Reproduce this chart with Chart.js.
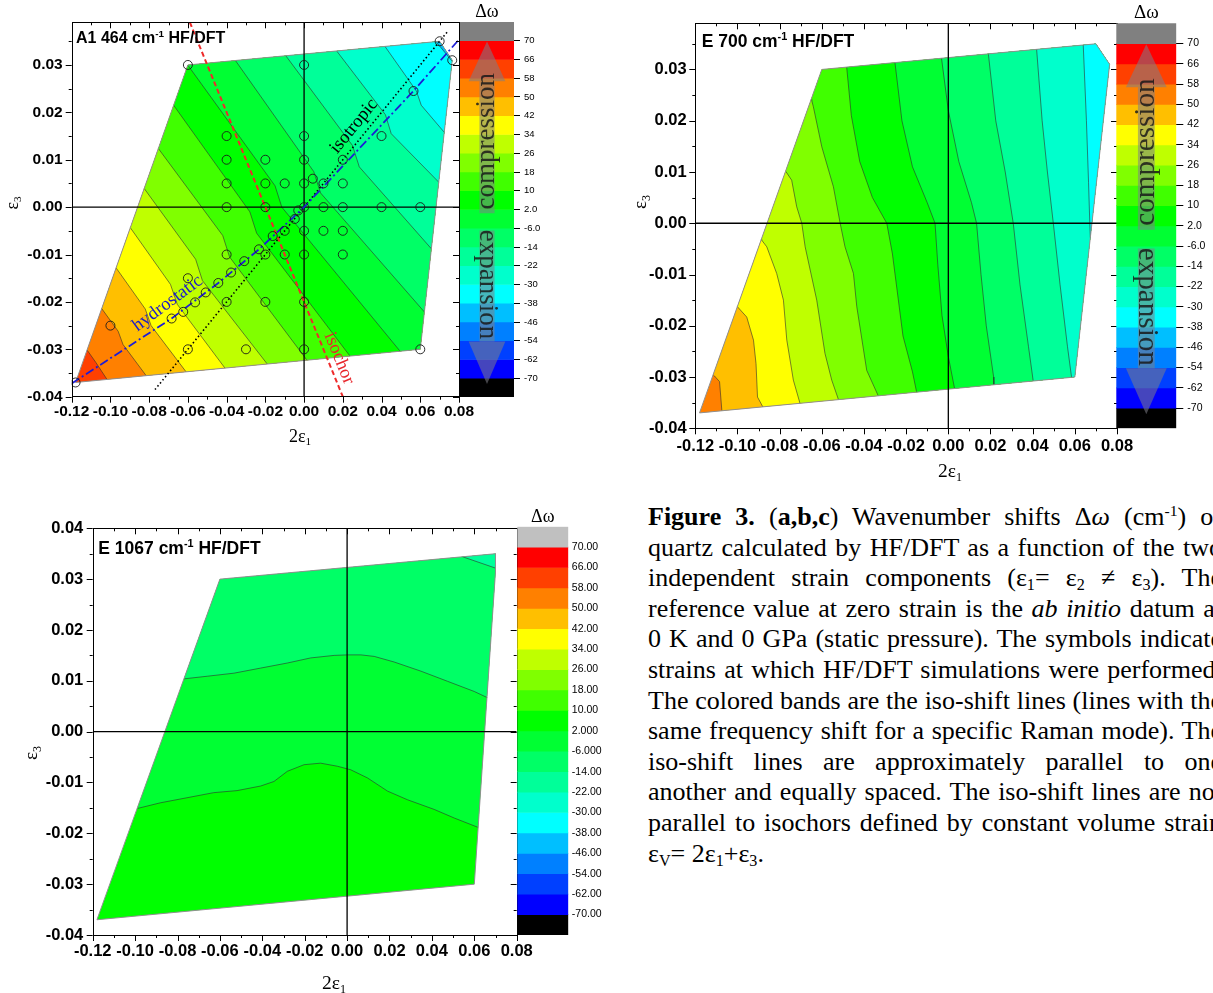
<!DOCTYPE html>
<html lang="en">
<head>
<meta charset="UTF-8">
<meta name="viewport" content="width=device-width, initial-scale=1.0">
<title>Figure 3. Wavenumber shifts of quartz, HF/DFT</title>
<script src="https://cdn.jsdelivr.net/npm/chart.js"></script>
<style>
  html, body { margin: 0; padding: 0; background: #fff; overflow: hidden; }
  #page { position: relative; width: 1213px; height: 993px; overflow: hidden; }
  #page canvas { position: absolute; }
  #caption { position: absolute; left: 648px; top: 502px; width: 574px;
    font-family: "Liberation Serif", "Times New Roman", serif; font-size: 26px; line-height: 30.6px; color: #000; }
  #caption div { text-align: justify; text-align-last: justify; }
  #caption div.last { text-align-last: left; }
  #caption sub { font-size: 62%; vertical-align: -0.22em; line-height: 0; }
  #caption sup { font-size: 60%; vertical-align: 0.6em; line-height: 0; }
</style>
</head>
<body>
<div id="page">
  <canvas id="pa" width="480" height="450" style="left:0;top:0;width:480px;height:450px"></canvas>
  <canvas id="pb" width="515" height="495" style="left:620px;top:0;width:515px;height:495px"></canvas>
  <canvas id="pc" width="535" height="488" style="left:0;top:505px;width:535px;height:488px"></canvas>
  <canvas id="cba" width="100" height="405" style="left:455px;top:0;width:100px;height:405px"></canvas>
  <canvas id="cbb" width="105" height="440" style="left:1108px;top:0;width:105px;height:440px"></canvas>
  <canvas id="cbc" width="100" height="440" style="left:510px;top:505px;width:100px;height:440px"></canvas>

  <div id="caption">
    <div><b>Figure 3.</b> (<b>a,b,c</b>) Wavenumber shifts Δ<i>ω</i> (cm<sup>-1</sup>) of</div>
    <div>quartz calculated by HF/DFT as a function of the two</div>
    <div>independent strain components (ε<sub>1</sub>= ε<sub>2</sub> ≠ ε<sub>3</sub>). The</div>
    <div>reference value at zero strain is the <i>ab initio</i> datum at</div>
    <div>0 K and 0 GPa (static pressure). The symbols indicate</div>
    <div>strains at which HF/DFT simulations were performed.</div>
    <div>The colored bands are the iso-shift lines (lines with the</div>
    <div>same frequency shift for a specific Raman mode). The</div>
    <div>iso-shift lines are approximately parallel to one</div>
    <div>another and equally spaced. The iso-shift lines are not</div>
    <div>parallel to isochors defined by constant volume strain</div>
    <div class="last">ε<sub>V</sub>= 2ε<sub>1</sub>+ε<sub>3</sub>.</div>
  </div>
</div>

<script>
// axis ticks
const xTicks = [-0.12, -0.10, -0.08, -0.06, -0.04, -0.02, 0.00, 0.02, 0.04, 0.06, 0.08];
const yTicksAB = [-0.04, -0.03, -0.02, -0.01, 0.00, 0.01, 0.02, 0.03];
const yTicksC = [-0.04, -0.03, -0.02, -0.01, 0.00, 0.01, 0.02, 0.03, 0.04];

// colour scale levels (cm-1), top to bottom
const levels = [70, 66, 58, 50, 42, 34, 26, 18, 10, 2, -6, -14, -22, -30, -38, -46, -54, -62, -70];
const levelLabels = ['70', '66', '58', '50', '42', '34', '26', '18', '10', '2.0', '-6.0', '-14', '-22', '-30', '-38', '-46', '-54', '-62', '-70'];
const levelLabelsC = ['70.00', '66.00', '58.00', '50.00', '42.00', '34.00', '26.00', '18.00', '10.00', '2.000', '-6.000',
  '-14.00', '-22.00', '-30.00', '-38.00', '-46.00', '-54.00', '-62.00', '-70.00'];

// strained states covered by the calculations (2e1, e3)
const domainAB = [[-0.118, -0.037], [-0.060, 0.030], [0.070, 0.035], [0.0765, 0.031], [0.060, -0.030]];
const domainC = [[-0.118, -0.037], [-0.060, 0.030], [0.070, 0.035], [0.070, 0.0315], [0.060, -0.030]];

// iso-shift lines, A1 464 cm-1
const isoLevelsA = [58, 50, 42, 34, 26, 18, 10, 2, -6, -14, -22, -30, -38];
const isoLinesA = [
  [[-0.1161, -0.0278], [-0.1075, -0.0328], [-0.0988, -0.0382]],
  [[-0.1086, -0.0191], [-0.0960, -0.0262], [-0.0935, -0.0290], [-0.0782, -0.0374]],
  [[-0.1011, -0.0105], [-0.0820, -0.0215], [-0.0790, -0.0250], [-0.0577, -0.0365]],
  [[-0.0938, -0.0020], [-0.0690, -0.0163], [-0.0655, -0.0205], [-0.0375, -0.0358]],
  [[-0.0866, 0.0062], [-0.0560, -0.0110], [-0.0525, -0.0155], [-0.0158, -0.0348]],
  [[-0.0793, 0.0146], [-0.0420, -0.0060], [-0.0385, -0.0105], [0.0046, -0.0340]],
  [[-0.0714, 0.0238], [-0.0280, -0.0010], [-0.0245, -0.0055], [0.0268, -0.0331]],
  [[-0.0640, 0.0322], [-0.0150, 0.0045], [-0.0115, 0.0000], [0.0528, -0.0320]],
  [[-0.0385, 0.0327], [0.0050, 0.0075], [0.0085, 0.0030], [0.0655, -0.0237]],
  [[-0.0128, 0.0338], [0.0250, 0.0130], [0.0285, 0.0085], [0.0690, -0.0103]],
  [[0.0130, 0.0350], [0.0420, 0.0195], [0.0450, 0.0155], [0.0733, 0.0037]],
  [[0.0380, 0.0361], [0.0580, 0.0245], [0.0605, 0.0215], [0.0759, 0.0141]],
  [[0.0640, 0.0370], [0.0800, 0.0290]]
];

// iso-shift lines, E 700 cm-1
const isoLevelsB = [50, 42, 34, 26, 18, 10, 2, -6, -14, -22, -30];
const isoLinesB = [
  [[-0.1145, -0.0285], [-0.1109, -0.0298], [-0.1085, -0.0309], [-0.1074, -0.0366], [-0.1072, -0.0400]],
  [[-0.1040, -0.0145], [-0.1000, -0.0163], [-0.0956, -0.0183], [-0.0924, -0.0228], [-0.0912, -0.0274], [-0.0905, -0.0339], [-0.0880, -0.0358], [-0.0875, -0.0400]],
  [[-0.0920, -0.0015], [-0.0885, -0.0033], [-0.0861, -0.0046], [-0.0814, -0.0098], [-0.0782, -0.0150], [-0.0766, -0.0228], [-0.0735, -0.0306], [-0.0703, -0.0352], [-0.0698, -0.0400]],
  [[-0.0810, 0.0120], [-0.0769, 0.0100], [-0.0743, 0.0084], [-0.0719, 0.0032], [-0.0695, 0.0000], [-0.0679, -0.0046], [-0.0624, -0.0150], [-0.0585, -0.0254], [-0.0553, -0.0306], [-0.0521, -0.0344], [-0.0515, -0.0400]],
  [[-0.0685, 0.0260], [-0.0648, 0.0240], [-0.0640, 0.0227], [-0.0600, 0.0149], [-0.0545, 0.0071], [-0.0513, 0.0000], [-0.0490, -0.0046], [-0.0450, -0.0098], [-0.0434, -0.0163], [-0.0387, -0.0287], [-0.0332, -0.0337], [-0.0328, -0.0400]],
  [[-0.0485, 0.0380], [-0.0482, 0.0304], [-0.0460, 0.0210], [-0.0420, 0.0120], [-0.0360, 0.0050], [-0.0292, 0.0000], [-0.0265, -0.0060], [-0.0240, -0.0140], [-0.0215, -0.0220], [-0.0170, -0.0290], [-0.0150, -0.0330], [-0.0148, -0.0400]],
  [[-0.0256, 0.0380], [-0.0253, 0.0313], [-0.0220, 0.0200], [-0.0170, 0.0110], [-0.0100, 0.0040], [-0.0063, 0.0000], [-0.0050, -0.0080], [-0.0030, -0.0180], [0.0000, -0.0260], [0.0030, -0.0323], [0.0034, -0.0400]],
  [[-0.0035, 0.0380], [-0.0032, 0.0321], [0.0000, 0.0220], [0.0050, 0.0120], [0.0110, 0.0040], [0.0134, 0.0000], [0.0155, -0.0100], [0.0180, -0.0200], [0.0215, -0.0300], [0.0222, -0.0400]],
  [[0.0188, 0.0380], [0.0190, 0.0330], [0.0225, 0.0200], [0.0270, 0.0100], [0.0308, 0.0000], [0.0340, -0.0120], [0.0380, -0.0240], [0.0403, -0.0309], [0.0405, -0.0400]],
  [[0.0417, 0.0380], [0.0419, 0.0338], [0.0445, 0.0200], [0.0470, 0.0100], [0.0498, 0.0000], [0.0530, -0.0120], [0.0565, -0.0240], [0.0585, -0.0302], [0.0590, -0.0400]],
  [[0.0638, 0.0380], [0.0640, 0.0347], [0.0655, 0.0200], [0.0665, 0.0080], [0.0671, 0.0000], [0.0680, -0.0100]]
];

// iso-shift lines, E 1067 cm-1
const isoLevelsC = [2, -6, -14];
const isoLinesC = [
  [[-0.1060, -0.0155], [-0.0988, -0.0151], [-0.0881, -0.0140], [-0.0755, -0.0130], [-0.0629, -0.0120], [-0.0519, -0.0116],
   [-0.0408, -0.0107], [-0.0345, -0.0098], [-0.0282, -0.0078], [-0.0203, -0.0065], [-0.0125, -0.0062], [-0.0046, -0.0068],
   [0.0017, -0.0075], [0.0096, -0.0091], [0.0191, -0.0117], [0.0285, -0.0134], [0.0411, -0.0153], [0.0506, -0.0170],
   [0.0616, -0.0188], [0.0700, -0.0203]],
  [[-0.0850, 0.0100], [-0.0766, 0.0104], [-0.0660, 0.0109], [-0.0534, 0.0115], [-0.0408, 0.0125], [-0.0282, 0.0135],
   [-0.0172, 0.0145], [-0.0061, 0.0150], [0.0002, 0.0151], [0.0065, 0.0151], [0.0128, 0.0148], [0.0222, 0.0137],
   [0.0348, 0.0119], [0.0474, 0.0099], [0.0600, 0.0079], [0.0656, 0.0068], [0.0750, 0.0055]],
  [[0.0480, 0.0353], [0.0545, 0.0344], [0.0698, 0.0322], [0.0800, 0.0311]]
];

// simulated strain states, panel a
const pointsA = [
  [-0.118, -0.037], [-0.06, 0.03], [0, 0.03], [0.07, 0.035], [0.0765, 0.031], [0.0565, 0.0245],
  [-0.04, 0.015], [0, 0.015], [0.04, 0.015],
  [-0.04, 0.01], [-0.02, 0.01], [0, 0.01], [0.02, 0.01],
  [-0.04, 0.005], [-0.02, 0.005], [-0.01, 0.005], [0, 0.005], [0.0045, 0.006], [0.01, 0.005], [0.02, 0.005],
  [-0.04, 0], [-0.02, 0], [0, 0], [0.01, 0], [0.02, 0], [0.04, 0], [0.06, 0],
  [-0.003, -0.0007], [-0.0048, -0.0025], [-0.01, -0.005], [0, -0.005], [0.01, -0.005], [0.02, -0.005],
  [-0.0162, -0.0061], [-0.0233, -0.0089],
  [-0.04, -0.01], [-0.02, -0.01], [-0.01, -0.01], [0, -0.01], [0.02, -0.01],
  [-0.0309, -0.0114], [-0.0377, -0.0138], [-0.0443, -0.016], [-0.0508, -0.018], [-0.0563, -0.0201],
  [-0.0624, -0.0221], [-0.0684, -0.0235],
  [-0.06, -0.015], [-0.04, -0.02], [-0.02, -0.02], [0, -0.02],
  [-0.1, -0.025], [-0.06, -0.03], [-0.03, -0.03], [0, -0.03], [0.06, -0.03]
];

// strain paths, panel a
const isotropicLine = [[-0.077, -0.0385], [0.0746, 0.0373]];
const hydrostaticLine = [[-0.12, -0.0372], [-0.0684, -0.0235], [-0.0443, -0.016], [-0.0233, -0.0089], [0, 0], [0.0565, 0.0245], [0.0805, 0.0356]];
const isochorLine = [[-0.059, 0.039], [0.02, -0.04]];

const bandColors = ['#808080', '#ff0000', '#ff4000', '#ff8000', '#ffbf00', '#ffff00', '#bfff00', '#80ff00', '#40ff00', '#00ff00',
  '#00ff33', '#00ff66', '#00ff99', '#00ffcc', '#00ffff', '#00bfff', '#0080ff', '#0040ff', '#0000ff', '#000000'];

const SANS = '"Liberation Sans", Arial, sans-serif';
const SERIF = '"Liberation Serif", "Times New Roman", serif';
const FAR = 1;

// ---------- geometry helpers ----------
function orient(poly) {
  let s = 0;
  for (let i = 0; i < poly.length; i++) {
    const p = poly[i], q = poly[(i + 1) % poly.length];
    s += p[0] * q[1] - q[0] * p[1];
  }
  return s > 0 ? 1 : -1;
}
function side(a, b, p, sg) {
  return sg * ((b[0] - a[0]) * (p[1] - a[1]) - (b[1] - a[1]) * (p[0] - a[0]));
}
// Sutherland-Hodgman against the (convex) domain
function clipPoly(subject, poly) {
  const sg = orient(poly);
  let out = subject;
  for (let j = 0; j < poly.length; j++) {
    const a = poly[j], b = poly[(j + 1) % poly.length];
    const input = out;
    out = [];
    for (let i = 0; i < input.length; i++) {
      const p = input[i], q = input[(i + 1) % input.length];
      const dp = side(a, b, p, sg), dq = side(a, b, q, sg);
      const cut = () => { const t = dp / (dp - dq); return [p[0] + t * (q[0] - p[0]), p[1] + t * (q[1] - p[1])]; };
      if (dp >= 0) { out.push(p); if (dq < 0) out.push(cut()); }
      else if (dq >= 0) out.push(cut());
    }
  }
  return out;
}
function clipLine(line, poly) {
  const sg = orient(poly), out = [];
  for (let i = 0; i < line.length - 1; i++) {
    const p = line[i], q = line[i + 1];
    let t0 = 0, t1 = 1;
    for (let j = 0; j < poly.length; j++) {
      const a = poly[j], b = poly[(j + 1) % poly.length];
      const dp = side(a, b, p, sg), dq = side(a, b, q, sg);
      if (dp < 0 && dq < 0) { t0 = 1; t1 = 0; break; }
      if (dp < 0) t0 = Math.max(t0, dp / (dp - dq));
      else if (dq < 0) t1 = Math.min(t1, dp / (dp - dq));
    }
    if (t0 < t1) {
      const at = t => [p[0] + t * (q[0] - p[0]), p[1] + t * (q[1] - p[1])];
      const s = at(t0), prev = out[out.length - 1];
      if (!prev || Math.abs(prev[0] - s[0]) > 1e-9 || Math.abs(prev[1] - s[1]) > 1e-9) out.push(s);
      out.push(at(t1));
    }
  }
  return out;
}
// region on the low-shift (upper right) side of an iso-shift line
function bandRegion(line) {
  const first = line[0], last = line[line.length - 1];
  return line.concat([[FAR, last[1]], [FAR, FAR], [first[0], FAR]]);
}

const xy = pts => pts.map(p => ({x: p[0], y: p[1]}));
function fillSet(pts, color) {
  return {data: xy(pts), showLine: true, fill: 'shape', backgroundColor: color, borderWidth: 0, pointRadius: 0, tension: 0};
}
function lineSet(pts, color, width, dash) {
  return {data: xy(pts), showLine: true, fill: false, borderColor: color, borderWidth: width, borderDash: dash || [],
    pointRadius: 0, tension: 0};
}
function contourSets(domain, lvls, lines, ymax) {
  const sets = [fillSet(domain, bandColors[levels.indexOf(lvls[0])])];
  lines.forEach((ln, i) => sets.push(fillSet(clipPoly(bandRegion(ln), domain), bandColors[levels.indexOf(lvls[i]) + 1])));
  lines.forEach(ln => sets.push(lineSet(clipLine(ln, domain), 'rgba(45,45,45,0.85)', 0.7)));
  sets.push(lineSet(domain.concat([domain[0]]), '#8f8f8f', 1));
  sets.push(lineSet([[-0.12, 0], [0.08, 0]], '#000', 1.3));
  sets.push(lineSet([[0, -0.04], [0, ymax]], '#000', 1.3));
  return sets;
}

// ---------- drawing helpers ----------
function drawParts(ctx, parts, x, y, o) {
  const size = o.size, weight = o.weight || 'normal';
  const fontFor = k => `${weight} ${k === 'n' ? size : size * 0.62}px ${o.family}`;
  ctx.save();
  ctx.translate(x, y);
  ctx.rotate(o.rot || 0);
  ctx.fillStyle = o.color || '#000';
  ctx.textBaseline = o.baseline || 'middle';
  ctx.textAlign = 'left';
  let w = 0;
  parts.forEach(([t, k]) => { ctx.font = fontFor(k); w += ctx.measureText(t).width; });
  let cx = o.align === 'left' ? 0 : -w / 2;
  parts.forEach(([t, k]) => {
    ctx.font = fontFor(k);
    const dy = k === 'sub' ? size * 0.3 : k === 'sup' ? -size * 0.38 : 0;
    ctx.fillText(t, cx, dy);
    cx += ctx.measureText(t).width;
  });
  ctx.restore();
}
function withMinor(major, lo, hi) {
  const out = major.map(v => ({v, major: true}));
  const step = major[1] - major[0];
  for (let i = -1; i < major.length; i++) {
    const m = (i < 0 ? major[0] - step : major[i]) + step / 2;
    if (m >= lo - 1e-9 && m <= hi + 1e-9) out.push({v: m, major: false});
  }
  return out;
}
const fmt2 = v => (Math.abs(v) < 1e-9 ? 0 : v).toFixed(2);

function panelDecor(L, notes) {
  return {
    id: 'decor',
    afterDatasetsDraw(chart) {
      const {ctx, scales: {x, y}} = chart;
      (notes || []).forEach(n => drawParts(ctx, [[n.text, 'n']], x.getPixelForValue(n.at[0]), y.getPixelForValue(n.at[1]),
        {size: n.size, family: SERIF, color: n.color, rot: n.angle * Math.PI / 180}));
    },
    afterDraw(chart) {
      const {ctx, chartArea: a, scales: {x, y}} = chart;
      ctx.save();
      ctx.strokeStyle = '#000';
      ctx.lineWidth = 1;
      ctx.beginPath();
      withMinor(xTicks, x.min, x.max).forEach(t => {
        const px = Math.round(x.getPixelForValue(t.v)) + 0.5, len = t.major ? 6 : 3;
        ctx.moveTo(px, a.bottom); ctx.lineTo(px, a.bottom + len);
        ctx.moveTo(px, a.top); ctx.lineTo(px, a.top + len);
      });
      withMinor(L.yTicks, y.min, y.max).forEach(t => {
        const py = Math.round(y.getPixelForValue(t.v)) + 0.5, len = t.major ? 6 : 3;
        ctx.moveTo(a.left, py); ctx.lineTo(a.left - len, py);
        ctx.moveTo(a.right, py); ctx.lineTo(a.right - len, py);
      });
      ctx.stroke();
      ctx.strokeRect(Math.round(a.left) + 0.5, Math.round(a.top) + 0.5, Math.round(a.right - a.left), Math.round(a.bottom - a.top));
      ctx.restore();
      drawParts(ctx, L.title, L.titleAt[0], L.titleAt[1], {size: L.titleSize, family: SANS, weight: 'bold', align: 'left', baseline: 'alphabetic'});
      drawParts(ctx, [['2ε', 'n'], ['1', 'sub']], L.xTitleAt[0], L.xTitleAt[1], {size: L.axisSize, family: SERIF});
      drawParts(ctx, [['ε', 'n'], ['3', 'sub']], L.yTitleAt[0], L.yTitleAt[1], {size: L.axisSize, family: SERIF, rot: -Math.PI / 2});
    }
  };
}

function makePanel(L, sets, notes) {
  sets.forEach((s, i) => { s.order = sets.length - i; });
  const tickFont = {family: SANS, size: L.tickFont, weight: 'bold'};
  return new Chart(document.getElementById(L.id), {
    type: 'scatter',
    data: {datasets: sets},
    options: {
      responsive: false, animation: false, devicePixelRatio: 1, events: [],
      layout: {padding: L.pad},
      plugins: {legend: {display: false}, tooltip: {enabled: false}},
      scales: {
        x: {
          type: 'linear', min: -0.12, max: 0.08,
          afterBuildTicks: s => { s.ticks = xTicks.map(v => ({value: v})); },
          afterFit: s => { s.height = L.xh; s.paddingLeft = 0; s.paddingRight = 0; },
          grid: {display: false, drawTicks: false}, border: {display: false},
          ticks: {autoSkip: false, maxRotation: 0, minRotation: 0, padding: L.xPad, color: '#000', font: tickFont, callback: v => fmt2(v)}
        },
        y: {
          type: 'linear', min: -0.04, max: L.ymax,
          afterBuildTicks: s => { s.ticks = L.yTicks.map(v => ({value: v})); },
          afterFit: s => { s.width = L.yw; s.paddingTop = 0; s.paddingBottom = 0; },
          grid: {display: false, drawTicks: false}, border: {display: false},
          ticks: {autoSkip: false, padding: L.yPad, color: '#000', font: tickFont, callback: v => fmt2(v)}
        }
      }
    },
    plugins: [panelDecor(L, notes)]
  });
}

function drawArrows(chart) {
  const {ctx, chartArea: a} = chart;
  const h = a.bottom - a.top, w = a.right - a.left, cx = (a.left + a.right) / 2;
  const Y = f => a.top + f * h;
  ctx.save();
  ctx.fillStyle = 'rgba(125,125,135,0.55)';
  ctx.beginPath();
  ctx.moveTo(cx, Y(0.052)); ctx.lineTo(cx + 0.34 * w, Y(0.158)); ctx.lineTo(cx - 0.34 * w, Y(0.158)); ctx.closePath();
  ctx.fill();
  ctx.fillRect(cx - 0.14 * w, Y(0.158), 0.28 * w, Y(0.51) - Y(0.158));
  ctx.fillRect(cx - 0.14 * w, Y(0.556), 0.28 * w, Y(0.852) - Y(0.556));
  ctx.beginPath();
  ctx.moveTo(cx - 0.34 * w, Y(0.852)); ctx.lineTo(cx + 0.34 * w, Y(0.852)); ctx.lineTo(cx, Y(0.965)); ctx.closePath();
  ctx.fill();
  ctx.restore();
  drawParts(ctx, [['compression', 'n']], cx, Y(0.318), {size: 0.072 * h, family: SERIF, color: 'rgba(25,25,25,0.85)', rot: -Math.PI / 2});
  drawParts(ctx, [['expansion', 'n']], cx, Y(0.70), {size: 0.072 * h, family: SERIF, color: 'rgba(25,25,25,0.85)', rot: Math.PI / 2});
}

function makeColorbar(C) {
  const colors = bandColors.slice();
  colors[0] = C.gray;
  const sets = colors.map((c, k) => ({data: [[19 - k, 20 - k]], backgroundColor: c, borderWidth: 0,
    grouped: false, barPercentage: 1, categoryPercentage: 1}));
  return new Chart(document.getElementById(C.id), {
    type: 'bar',
    data: {labels: ['Δω'], datasets: sets},
    options: {
      responsive: false, animation: false, devicePixelRatio: 1, events: [],
      layout: {padding: C.pad},
      plugins: {legend: {display: false}, tooltip: {enabled: false}},
      scales: {
        x: {display: false},
        y: {
          position: 'right', min: 0, max: 20,
          afterBuildTicks: s => { s.ticks = C.labels.map((_, i) => ({value: 19 - i})); },
          afterFit: s => { s.width = C.yw; s.paddingTop = 0; s.paddingBottom = 0; },
          grid: {display: C.tickLen > 0, drawOnChartArea: false, drawTicks: C.tickLen > 0, tickLength: C.tickLen, tickColor: '#000', tickWidth: 1},
          border: {display: false},
          ticks: {padding: C.labelPad, color: '#000', font: {family: SANS, size: C.font}, callback: v => C.labels[19 - Math.round(v)]}
        }
      }
    },
    plugins: [{
      id: 'cbdecor',
      afterDatasetsDraw(chart) { if (C.arrows) drawArrows(chart); },
      afterDraw(chart) {
        const a = chart.chartArea;
        drawParts(chart.ctx, [['Δω', 'n']], (a.left + a.right) / 2, a.top - C.titleGap, {size: C.titleSize, family: SERIF});
      }
    }]
  });
}

// ---------- panels ----------
const layoutA = {id: 'pa', pad: {left: 0, top: 22.3, right: 21, bottom: 0}, yw: 71.7, xh: 53.3, ymax: 0.039, yTicks: yTicksAB,
  tickFont: 15.5, xPad: 6, yPad: 9, title: [['A1 464 cm', 'n'], ['-1', 'sup'], [' HF/DFT', 'n']], titleSize: 16, titleAt: [76, 43],
  axisSize: 18, xTitleAt: [300, 437], yTitleAt: [13, 203]};
const layoutB = {id: 'pb', pad: {left: 0, top: 23.3, right: 18, bottom: 0}, yw: 75.3, xh: 66.7, ymax: 0.039, yTicks: yTicksAB,
  tickFont: 16.5, xPad: 7.8, yPad: 8.6, title: [['E 700 cm', 'n'], ['-1', 'sup'], [' HF/DFT', 'n']], titleSize: 17.5, titleAt: [81.7, 46.5],
  axisSize: 19.5, xTitleAt: [330, 472], yTitleAt: [21, 202]};
const layoutC = {id: 'pc', pad: {left: 0, top: 23.3, right: 18.3, bottom: 0}, yw: 92.7, xh: 58, ymax: 0.04, yTicks: yTicksC,
  tickFont: 16.5, xPad: 6.1, yPad: 9.4, title: [['E 1067 cm', 'n'], ['-1', 'sup'], [' HF/DFT', 'n']], titleSize: 17.5, titleAt: [98.3, 49],
  axisSize: 19.5, xTitleAt: [334, 479], yTitleAt: [32, 248]};

const notesA = [
  {text: 'isotropic', at: [0.0258, 0.0171], angle: -50.8, color: '#000', size: 18.5},
  {text: 'hydrostatic', at: [-0.0705, -0.0203], angle: -36.5, color: '#1c1cc8', size: 18.5},
  {text: 'isochor', at: [0.0181, -0.0319], angle: 67.8, color: '#e8262c', size: 18.5}
];

const setsA = contourSets(domainAB, isoLevelsA, isoLinesA, 0.039);
setsA.push(lineSet(isochorLine, '#ee2a2a', 2, [5, 3]));
setsA.push(lineSet(isotropicLine, '#000', 1.6, [1.5, 2.5]));
setsA.push(lineSet(hydrostaticLine, '#1d1dd6', 1.8, [9, 3, 2, 3]));
setsA.push({data: xy(pointsA), showLine: false, pointRadius: 4.5, pointBorderWidth: 0.9, pointBorderColor: '#1a1a1a',
  pointBackgroundColor: 'rgba(0,0,0,0)', pointStyle: 'circle'});

makePanel(layoutA, setsA, notesA);
makePanel(layoutB, contourSets(domainAB, isoLevelsB, isoLinesB, 0.039));
makePanel(layoutC, contourSets(domainC, isoLevelsC, isoLinesC, 0.04));

makeColorbar({id: 'cba', pad: {left: 5, top: 22, right: 0, bottom: 8}, yw: 41, gray: '#808080', labels: levelLabels,
  tickLen: 6, labelPad: 4, font: 9.5, arrows: true, titleSize: 18, titleGap: 10});
makeColorbar({id: 'cbb', pad: {left: 8.3, top: 23.3, right: 0, bottom: 11.7}, yw: 36.7, gray: '#808080', labels: levelLabels,
  tickLen: 7, labelPad: 4, font: 10.5, arrows: true, titleSize: 19, titleGap: 10.3});
makeColorbar({id: 'cbc', pad: {left: 7.3, top: 21.7, right: 0, bottom: 10}, yw: 41.7, gray: '#c0c0c0', labels: levelLabelsC,
  tickLen: 0, labelPad: 3.5, font: 10.5, arrows: false, titleSize: 18, titleGap: 9.7});
</script>
</body>
</html>
